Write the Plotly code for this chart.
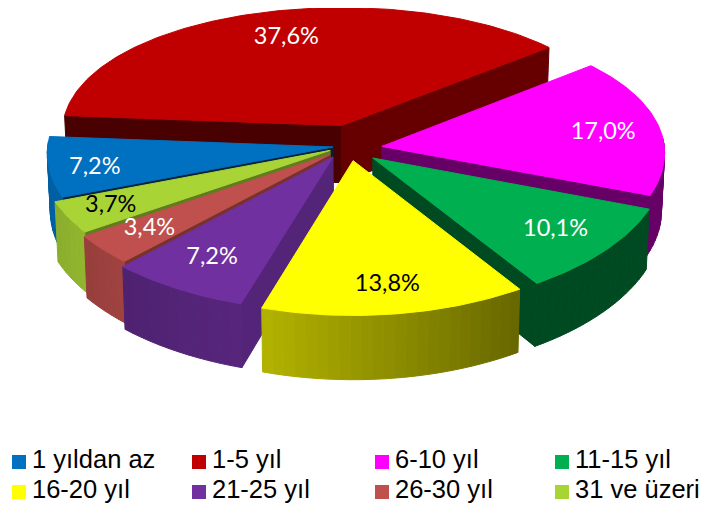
import math
import plotly.graph_objects as go

# ---- data ----
categories = ["1 yıldan az", "1-5 yıl", "6-10 yıl", "11-15 yıl",
              "16-20 yıl", "21-25 yıl", "26-30 yıl", "31 ve üzeri"]
values = [7.2, 37.6, 17.0, 10.1, 13.8, 7.2, 3.4, 3.7]
labels = ["7,2%", "37,6%", "17,0%", "10,1%", "13,8%", "7,2%", "3,4%", "3,7%"]

# ---- style ----
colors = ["#0070C0", "#C00000", "#FF00FF", "#00B050",
          "#FFFF00", "#7030A0", "#C0504D", "#A9D436"]
label_colors = ["white", "white", "white", "white", "black", "white", "white", "black"]
# how far each slice is pulled out of the pie, and how large it is drawn
pull_x = [-0.055, -0.026, 0.113, 0.082, 0.014, -0.055, -0.065, -0.065]
pull_y = [0.015, 0.175, 0.019, -0.066, -0.085, -0.060, -0.040, -0.010]
radius = [0.985, 0.969, 0.975, 1.0, 1.02, 1.02, 1.0, 1.0]
label_r = [0.83, 0.73, 0.775, 0.79, 0.84, 0.80, 0.80, 0.84]
label_twist = [-2, 2, 2, 0, 0, 0, 0, 0]
shade_start = [0.30, 0.38, 1.0, 1.0, 1.0, 0.75, 0.62, 0.58]   # radial wall at slice start
shade_end = [1.0, 0.53, 0.40, 0.42, 1.0, 1.0, 1.0, 1.0]       # radial wall at slice end
arc_left = [0.85, 1, 0.40, 0.42, 0.70, 0.78, 0.84, 0.86]      # outer wall shading, left end
arc_right = [0.85, 1, 0.40, 0.42, 0.40, 0.70, 0.78, 0.82]     # outer wall shading, right end
draw_order = [1, 0, 2, 3, 7, 6, 5, 4]

ROT = -111.4
CX, CY, R, H, DEPTH = 349, 149, 290, 136, 58
PX, PY = 0.046, 0.088
FONT_LABEL = "Lato, 'Open Sans', sans-serif"
FONT_LEGEND = "'Liberation Sans', Arial, sans-serif"
PAGE_MARGIN = 8   # the browser's default body margin


def project(X, Y, down=False):
    d = 1 + PY * Y
    x = CX + R * X / (1 + PX * Y)
    y = CY - H * Y / d
    if down:
        x = CX + (x - CX) * 0.99
        y += DEPTH / d
    return x, y


def shade(hex_color, f):
    r, g, b = (int(hex_color[i:i + 2], 16) for i in (1, 3, 5))
    return f"rgb({r * f:.0f},{g * f:.0f},{b * f:.0f})"


fig = go.Figure()


def poly(xs, ys, color):
    fig.add_trace(go.Scatter(x=xs + xs[:1], y=ys + ys[:1], mode="lines", fill="toself",
                             fillcolor=color, line=dict(color=color, width=1),
                             hoverinfo="skip", showlegend=False))


total = sum(values)
spans, a = [], ROT
for v in values:
    spans.append((a, a + 360 * v / total))
    a += 360 * v / total


def plane(i, theta, r=None):
    r = radius[i] if r is None else r
    t = math.radians(theta)
    return pull_x[i] + r * math.sin(t), pull_y[i] + r * math.cos(t)


def wall(i, theta, color):
    ax, ay = plane(i, 0, 0)
    bx, by = plane(i, theta)
    p = [project(ax, ay), project(bx, by), project(bx, by, True), project(ax, ay, True)]
    poly([q[0] for q in p], [q[1] for q in p], color)


for i in draw_order:
    a0, a1 = spans[i]
    if math.sin(math.radians(a0)) < 0:
        wall(i, a0, shade(colors[i], shade_start[i]))
    if math.sin(math.radians(a1)) > 0:
        wall(i, a1, shade(colors[i], shade_end[i]))
    # outer wall, drawn in narrow strips so the shading can vary along it
    n = max(4, int((a1 - a0) / 2))
    for k in range(n):
        t0 = a0 + (a1 - a0) * k / n
        t1 = a0 + (a1 - a0) * (k + 1) / n
        if math.cos(math.radians((t0 + t1) / 2)) > 0.05:
            continue
        p0, p1 = plane(i, t0), plane(i, t1)
        q = [project(*p0), project(*p1), project(*p1, True), project(*p0, True)]
        frac = 1 - (k + 0.5) / n if math.sin(math.radians(a0)) > 0 else (k + 0.5) / n
        f = arc_left[i] + (arc_right[i] - arc_left[i]) * frac
        poly([c[0] for c in q], [c[1] for c in q], shade(colors[i], f))
    # top surface
    steps = max(6, int(a1 - a0))
    pts = [project(*plane(i, 0, 0))]
    pts += [project(*plane(i, a0 + (a1 - a0) * s / steps)) for s in range(steps + 1)]
    poly([c[0] for c in pts], [c[1] for c in pts], colors[i])

# data labels
for i, lab in enumerate(labels):
    a0, a1 = spans[i]
    x, y = project(*plane(i, (a0 + a1) / 2 + label_twist[i], label_r[i]))
    fig.add_trace(go.Scatter(x=[x], y=[y], mode="text", text=[lab], textposition="middle center",
                             textfont=dict(family=FONT_LABEL, size=23.5, color=label_colors[i]),
                             hoverinfo="skip", showlegend=False))

# legend (two rows of four)
LEG_X = [19, 199, 382, 562]
LEG_Y = [462, 492]
LEG_TEXT_GAP = 13
for i, cat in enumerate(categories):
    fig.add_trace(go.Scatter(x=[LEG_X[i % 4]], y=[LEG_Y[i // 4]], mode="markers",
                             marker=dict(symbol="square", size=14, color=colors[i]),
                             hoverinfo="skip", showlegend=False))
    fig.add_trace(go.Scatter(x=[LEG_X[i % 4] + LEG_TEXT_GAP], y=[LEG_Y[i // 4]], mode="text",
                             text=[cat], textposition="middle right",
                             textfont=dict(family=FONT_LEGEND, size=25.5, color="black"),
                             hoverinfo="skip", showlegend=False, cliponaxis=False))

fig.update_layout(
    width=707, height=514 - PAGE_MARGIN, margin=dict(l=0, r=0, t=0, b=0),
    paper_bgcolor="white", plot_bgcolor="white", showlegend=False,
    xaxis=dict(range=[PAGE_MARGIN, 707 + PAGE_MARGIN], visible=False, fixedrange=True),
    yaxis=dict(range=[514, PAGE_MARGIN], visible=False, fixedrange=True),
)
fig.write_html("out.html", config={"displayModeBar": False})
